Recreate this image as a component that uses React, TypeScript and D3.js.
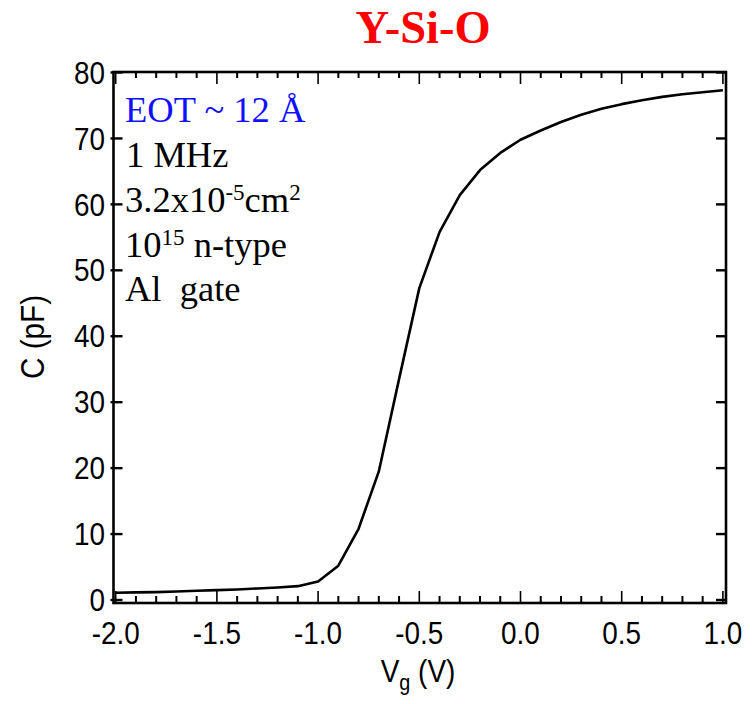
import React from "react";
import * as d3 from "d3";

const voltages: number[] = [
  -2.0, -1.9, -1.8, -1.7, -1.6, -1.5, -1.4, -1.3, -1.2, -1.1, -1.0,
  -0.9, -0.8, -0.7, -0.6, -0.5, -0.4, -0.3, -0.2, -0.1, 0.0,
  0.1, 0.2, 0.3, 0.4, 0.5, 0.6, 0.7, 0.8, 0.9, 1.0,
];
const capacitance: number[] = [
  1.1, 1.15, 1.2, 1.3, 1.4, 1.5, 1.6, 1.75, 1.9, 2.1, 2.8,
  5.2, 10.8, 19.5, 33.5, 47.3, 55.8, 61.4, 65.2, 67.8, 69.8,
  71.2, 72.5, 73.6, 74.5, 75.2, 75.8, 76.3, 76.7, 77.0, 77.3,
];
const xMajorTicks: number[] = [-2.0, -1.5, -1.0, -0.5, 0.0, 0.5, 1.0];
const xTickLabels: string[] = ["-2.0", "-1.5", "-1.0", "-0.5", "0.0", "0.5", "1.0"];
const yMajorTicks: number[] = [0, 10, 20, 30, 40, 50, 60, 70, 80];
const yTickLabels: string[] = ["0", "10", "20", "30", "40", "50", "60", "70", "80"];
const titleText = "Y-Si-O";

const W = 753;
const H = 704;
const frame = { left: 113.5, right: 726, top: 72, bottom: 603 };

export default function App() {
  const x = d3.scaleLinear().domain([-2.0, 1.0]).range([115.7, 722.9]);
  const y = d3.scaleLinear().domain([0, 80]).range([600, 72.5]);
  const xMinor = d3.range(-20, 11).map((i) => i / 10).filter((v) => !xMajorTicks.some((m) => Math.abs(m - v) < 1e-6));

  const pts: [number, number][] = voltages.map((v, i) => [v, capacitance[i]]);
  const line = d3
    .line<[number, number]>()
    .x((d) => x(d[0]))
    .y((d) => y(d[1]));

  const sans = "'Liberation Sans', Arial, Helvetica, sans-serif";
  const serif = "'Liberation Serif', 'Times New Roman', Times, serif";
  const sx = 0.9;

  return (
    <svg
      width={W}
      height={H}
      viewBox={`0 0 ${W} ${H}`}
      style={{ position: "absolute", left: 0, top: 0, background: "#fff" }}
    >
      <rect x={0} y={0} width={W} height={H} fill="#fff" />
      {/* title */}
      <text x={423} y={43} textAnchor="middle" fill="#ff0000" fontFamily={serif} fontWeight="bold" fontSize={46.5}>
        {titleText}
      </text>

      {/* curve */}
      <path d={line(pts) || ""} fill="none" stroke="#000" strokeWidth={2.6} strokeLinejoin="round" />

      {/* frame */}
      <rect
        x={frame.left}
        y={frame.top}
        width={frame.right - frame.left}
        height={frame.bottom - frame.top}
        fill="none"
        stroke="#000"
        strokeWidth={2.6}
      />

      {/* x ticks */}
      {xMajorTicks.map((v) => (
        <g key={"xm" + v}>
          <line x1={x(v)} x2={x(v)} y1={frame.bottom} y2={frame.bottom - 12} stroke="#000" strokeWidth={1.6} />
          <line x1={x(v)} x2={x(v)} y1={frame.top} y2={frame.top + 12} stroke="#000" strokeWidth={1.6} />
        </g>
      ))}
      {xMinor.map((v) => (
        <g key={"xn" + v}>
          <line x1={x(v)} x2={x(v)} y1={frame.bottom} y2={frame.bottom - 7} stroke="#000" strokeWidth={2} />
          <line x1={x(v)} x2={x(v)} y1={frame.top} y2={frame.top + 6} stroke="#000" strokeWidth={2} />
        </g>
      ))}
      {xMajorTicks.map((v, i) => (
        <text
          key={"xl" + v}
          transform={`translate(${x(v)},644) scale(${sx},1)`}
          textAnchor="middle"
          fontFamily={sans}
          fontSize={31}
          fill="#000"
        >
          {xTickLabels[i]}
        </text>
      ))}

      {/* y ticks */}
      {yMajorTicks.map((v) => (
        <g key={"ym" + v}>
          <line x1={frame.left - 3} x2={frame.left + 9} y1={y(v)} y2={y(v)} stroke="#000" strokeWidth={2.4} />
          <line x1={frame.right} x2={frame.right - 10} y1={y(v)} y2={y(v)} stroke="#000" strokeWidth={2.4} />
        </g>
      ))}
      {yMajorTicks.map((v, i) => (
        <text
          key={"yl" + v}
          transform={`translate(105,${y(v)}) scale(${sx},1)`}
          dy="0.36em"
          textAnchor="end"
          fontFamily={sans}
          fontSize={31}
          fill="#000"
        >
          {yTickLabels[i]}
        </text>
      ))}

      {/* axis titles */}
      <text
        transform={`translate(418,682) scale(${sx},1)`}
        textAnchor="middle"
        fontFamily={sans}
        fontSize={31}
        fill="#000"
      >
        V<tspan fontSize={22} dy={8}>g</tspan>
        <tspan dy={-8}> (V)</tspan>
      </text>
      <text
        transform={`translate(44,337) rotate(-90) scale(${sx},1)`}
        textAnchor="middle"
        fontFamily={sans}
        fontSize={33}
        fill="#000"
      >
        C (pF)
      </text>

      {/* annotation */}
      <g fontFamily={serif} fontSize={36.5}>
        <text x={125} y={122} fill="#1010ff">EOT ~ 12 Å</text>
        <text x={126} y={167} fill="#000">1 MHz</text>
        <text x={125} y={212} fill="#000">
          3.2x10<tspan fontSize={23} dy={-12}>-5</tspan>
          <tspan dy={12}>cm</tspan>
          <tspan fontSize={23} dy={-12}>2</tspan>
        </text>
        <text x={125} y={257} fill="#000">
          10<tspan fontSize={23} dy={-12}>15</tspan>
          <tspan dy={12}> n-type</tspan>
        </text>
        <text x={125} y={301} fill="#000" style={{ whiteSpace: "pre" }}>
          Al  gate
        </text>
      </g>
    </svg>
  );
}
